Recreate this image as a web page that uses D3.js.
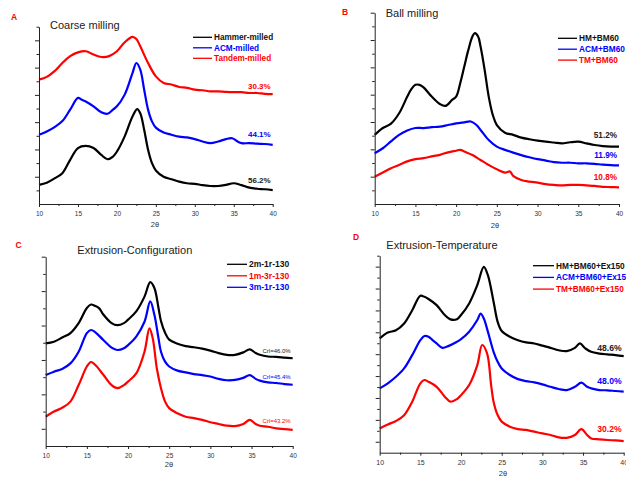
<!DOCTYPE html>
<html><head><meta charset="utf-8">
<script src="https://cdn.jsdelivr.net/npm/d3@7"></script>
<style>body{margin:0;background:#fff}svg{display:block}text{font-family:"Liberation Sans",Arial,sans-serif}</style>
</head><body><svg id="c" width="626" height="477"></svg>
<script>
// ---------- data ----------
const xTicks = [10, 15, 20, 25, 30, 35, 40];
const xMinorTicks = [12.5, 17.5, 22.5, 27.5, 32.5, 37.5];
const xTitle = "2θ";

// Panel A: Coarse milling
const coarseHammer = [[10,0.70],[11,0.78],[12,0.94],[13,1.13],[14,1.62],[15,2.05],[16,2.13],[17,2.05],[18,1.80],[18.8,1.64],[19.5,1.74],[20,1.92],[21,2.48],[22,3.21],[22.6,3.48],[23,3.33],[23.5,2.72],[24,1.99],[24.5,1.50],[25,1.23],[26,1.00],[27,0.91],[28,0.82],[29,0.76],[30,0.74],[31,0.69],[32,0.66],[33,0.66],[34,0.70],[35,0.76],[36,0.69],[37,0.60],[38,0.56],[39,0.54],[40,0.51]];
const coarseACM = [[10,2.54],[11,2.66],[12,2.82],[13,3.04],[14,3.46],[15,3.89],[15.5,3.82],[16,3.76],[17,3.58],[18,3.36],[18.8,3.31],[19.5,3.46],[20,3.58],[21,4.01],[22,4.80],[22.5,5.17],[23,4.93],[23.5,4.19],[24,3.46],[24.5,3.03],[25,2.80],[26,2.62],[27,2.54],[28,2.47],[29,2.44],[30,2.38],[31,2.29],[32,2.23],[33,2.29],[34,2.38],[34.8,2.41],[35.5,2.29],[36,2.23],[37,2.23],[38,2.21],[39,2.20],[40,2.17]];
const coarseTandem = [[10,4.56],[11,4.66],[12,4.87],[13,5.17],[14,5.42],[15,5.56],[16,5.60],[17,5.48],[18,5.39],[19,5.42],[20,5.60],[21,5.93],[22,6.13],[22.5,6.05],[23,5.78],[24,5.17],[25,4.68],[26,4.44],[27,4.38],[28,4.29],[29,4.26],[30,4.19],[31,4.17],[32,4.13],[33,4.13],[34,4.11],[35,4.10],[36,4.10],[37,4.07],[38,4.07],[39,4.04],[40,4.03]];
const coarseNames = ["Hammer-milled", "ACM-milled", "Tandem-milled"];
const coarseCrI = ["56.2%", "44.1%", "30.3%"];

// Panel B: Ball milling
const ballHM = [[10,2.53],[11,2.78],[12,2.94],[13,3.32],[14,3.93],[14.5,4.20],[15,4.36],[15.5,4.36],[16,4.27],[17,3.93],[18,3.66],[18.7,3.59],[19.5,3.81],[20,3.93],[20.5,4.42],[21,5.03],[21.5,5.64],[22,6.13],[22.3,6.25],[22.7,6.13],[23,5.76],[23.5,4.91],[24,3.93],[24.5,3.26],[25,2.89],[26,2.61],[27,2.53],[28,2.43],[29,2.37],[30,2.32],[31,2.28],[32,2.25],[33,2.22],[34,2.26],[35,2.28],[36,2.22],[37,2.16],[38,2.12],[39,2.10],[40,2.10]];
const ballACM = [[10,1.86],[11,2.04],[12,2.29],[13,2.53],[14,2.69],[15,2.78],[16,2.78],[17,2.81],[18,2.83],[19,2.89],[20,2.95],[21,2.99],[21.8,3.02],[22.5,2.89],[23,2.71],[24,2.34],[25,2.10],[26,1.98],[27,1.88],[28,1.79],[29,1.71],[30,1.64],[31,1.59],[32,1.53],[33,1.51],[34,1.51],[35,1.49],[36,1.49],[37,1.47],[38,1.44],[39,1.42],[40,1.41]];
const ballTM = [[10,1.00],[11,1.15],[12,1.31],[13,1.43],[14,1.56],[15,1.64],[16,1.68],[17,1.74],[18,1.80],[19,1.89],[20,1.95],[20.5,1.98],[21,1.92],[22,1.79],[23,1.61],[24,1.43],[25,1.27],[26,1.15],[26.6,1.19],[27,1.03],[28,0.88],[29,0.82],[30,0.78],[31,0.73],[32,0.70],[33,0.68],[34,0.70],[35,0.70],[36,0.68],[37,0.66],[38,0.63],[39,0.62],[40,0.61]];
const ballNames = ["HM+BM60", "ACM+BM60", "TM+BM60"];
const ballCrI = ["51.2%", "11.9%", "10.8%"];

// Panel C: Extrusion-Configuration
const config2m1r = [[10,2.98],[11,3.03],[12,3.15],[13,3.28],[14,3.57],[15,4.01],[15.5,4.11],[16,4.07],[16.5,4.00],[17,3.82],[18,3.57],[18.7,3.51],[19.5,3.57],[20,3.67],[21,3.91],[22,4.34],[22.7,4.76],[23.2,4.59],[23.7,4.01],[24,3.63],[24.5,3.29],[25,3.09],[26,2.97],[27,2.90],[28,2.87],[29,2.83],[30,2.77],[31,2.70],[32,2.65],[33,2.65],[34,2.72],[34.8,2.81],[35.5,2.70],[36,2.65],[37,2.60],[38,2.59],[39,2.57],[40,2.55]];
const config1m3r = [[10,0.85],[11,1.00],[12,1.11],[13,1.29],[14,1.77],[15,2.31],[15.5,2.44],[16,2.36],[17,2.07],[18,1.77],[18.7,1.68],[19.5,1.77],[20,1.87],[21,2.11],[22,2.74],[22.6,3.42],[23,3.13],[23.5,2.25],[24,1.68],[24.5,1.29],[25,1.10],[26,0.95],[27,0.85],[28,0.81],[29,0.76],[30,0.69],[31,0.64],[32,0.59],[33,0.58],[34,0.64],[34.8,0.76],[35.5,0.64],[36,0.59],[37,0.56],[38,0.51],[39,0.49],[40,0.47]];
const config3m1r = [[10,2.06],[11,2.16],[12,2.24],[13,2.40],[14,2.74],[15,3.28],[15.5,3.37],[16,3.31],[17,3.08],[18,2.86],[18.7,2.79],[19.5,2.84],[20,2.93],[21,3.18],[22,3.61],[22.7,4.20],[23.2,3.81],[23.7,3.13],[24,2.74],[24.5,2.45],[25,2.31],[26,2.19],[27,2.14],[28,2.09],[29,2.06],[30,2.02],[31,1.95],[32,1.91],[33,1.92],[34,1.98],[34.8,2.06],[35.5,1.95],[36,1.90],[37,1.85],[38,1.83],[39,1.80],[40,1.78]];
const configNames = ["2m-1r-130", "1m-3r-130", "3m-1r-130"];
const configCrI = ["Crl=46.0%", "Crl=43.2%", "Crl=45.4%"];

// Panel D: Extrusion-Temperature
const tempHM = [[10,5.22],[11,5.49],[12,5.59],[13,5.90],[14,6.51],[15,7.17],[15.5,7.12],[16,7.02],[17,6.74],[18,6.29],[18.7,6.09],[19.5,6.10],[20,6.29],[21,6.82],[22,7.66],[22.8,8.49],[23.3,8.11],[24,6.90],[24.5,5.98],[25,5.56],[26,5.30],[27,5.14],[28,5.04],[29,4.99],[30,4.89],[31,4.79],[32,4.68],[33,4.64],[34,4.79],[34.6,4.99],[35.3,4.76],[36,4.61],[37,4.53],[38,4.49],[39,4.46],[40,4.41]];
const tempACM = [[10,2.94],[11,3.17],[12,3.47],[13,3.85],[14,4.46],[15,5.14],[15.5,5.33],[16,5.30],[16.5,5.14],[17,4.99],[17.7,4.79],[18.5,4.88],[19.5,5.07],[20,5.19],[21,5.53],[22,6.06],[22.4,6.36],[22.8,6.13],[23.3,5.53],[24,4.61],[24.5,4.16],[25,3.85],[26,3.55],[27,3.36],[28,3.27],[29,3.21],[30,3.12],[31,3.01],[32,2.91],[33,2.86],[34,3.01],[34.8,3.20],[35.5,3.01],[36,2.94],[37,2.86],[38,2.85],[39,2.82],[40,2.79]];
const tempTM = [[10,1.11],[11,1.29],[12,1.45],[13,1.71],[14,2.33],[15,3.17],[15.5,3.32],[16,3.24],[17,3.01],[18,2.56],[18.7,2.33],[19.5,2.45],[20,2.63],[21,3.09],[22,4.00],[22.6,4.92],[23.2,4.54],[23.7,3.09],[24,2.33],[24.5,1.72],[25,1.42],[26,1.19],[27,1.08],[28,1.04],[29,0.96],[30,0.88],[31,0.81],[32,0.70],[33,0.68],[34,0.81],[34.8,1.08],[35.5,0.81],[36,0.65],[37,0.61],[38,0.58],[39,0.56],[40,0.53]];
const tempNames = ["HM+BM60+Ex150", "ACM+BM60+Ex150", "TM+BM60+Ex150"];
const tempCrI = ["48.6%", "48.0%", "30.2%"];

// ---------- layout ----------
const BLACK = "#000", BLUE = "#0000ff", RED = "#ff0000";
const panels = [
  { letter: "A", lx: 11, ly: 20, title: "Coarse milling", tx: 50, ty: 28.5,
    left: 39, right: 272.7, bottom: 204, top: 26.7, yMax: 6.5,
    yMajor: [1,2,3,4,5,6], yMinor: [0.5,1.5,2.5,3.5,4.5,5.5,6.5],
    series: [coarseHammer, coarseACM, coarseTandem], colors: [BLACK, BLUE, RED],
    names: coarseNames, crI: coarseCrI, crFont: 8, crBold: true, crOff: [10, 11, 8],
    legX: 193, legLen: 19, legY: 37.3, legDy: 10.5, legFont: 8.2,
    xTitleX: 155, xTitleY: 227, tickFont: 6.5 },
  { letter: "B", lx: 342, ly: 15, title: "Ball milling", tx: 385.7, ty: 16.5,
    left: 374.7, right: 619, bottom: 204, top: 12.7, yMax: 7,
    yMajor: [1,2,3,4,5,6,7], yMinor: [0.5,1.5,2.5,3.5,4.5,5.5,6.5],
    series: [ballHM, ballACM, ballTM], colors: [BLACK, BLUE, RED],
    names: ballNames, crI: ballCrI, crFont: 8.2, crBold: true, crOff: [11.5, 10, 10],
    legX: 558, legLen: 19, legY: 38.3, legDy: 10.9, legFont: 8.3,
    xTitleX: 495, xTitleY: 228, tickFont: 6.5 },
  { letter: "C", lx: 15.5, ly: 247.5, title: "Extrusion-Configuration", tx: 77.3, ty: 253.5,
    left: 45.7, right: 292.7, bottom: 446, top: 256.7, yMax: 5.5,
    yMajor: [0.5,1.5,2.5,3.5,4.5,5.5], yMinor: [1,2,3,4,5],
    series: [config2m1r, config1m3r, config3m1r], colors: [BLACK, RED, BLUE],
    names: configNames, crI: configCrI, crFont: 6, crBold: false, crOff: [7, 9, 8],
    legX: 227, legLen: 20, legY: 264.3, legDy: 11.5, legFont: 8.5,
    xTitleX: 169, xTitleY: 467, tickFont: 6.5 },
  { letter: "D", lx: 353, ly: 240, title: "Extrusion-Temperature", tx: 386.3, ty: 248.5,
    left: 379.7, right: 623.7, bottom: 452.7, top: 255.7, yMax: 9,
    yMajor: [0.5,1.5,2.5,3.5,4.5,5.5,6.5,7.5,8.5], yMinor: [1,2,3,4,5,6,7,8,9],
    series: [tempHM, tempACM, tempTM], colors: [BLACK, BLUE, RED],
    names: tempNames, crI: tempCrI, crFont: 8.6, crBold: true, crOff: [8.5, 11, 12],
    legX: 533, legLen: 21, legY: 265.7, legDy: 11.7, legFont: 8.3,
    xTitleX: 503, xTitleY: 476, tickFont: 7 }
];

const svg = d3.select("#c");

panels.forEach(p => {
  const g = svg.append("g");
  const x = d3.scaleLinear().domain([10, 40]).range([p.left, p.right]);
  const y = d3.scaleLinear().domain([0, p.yMax]).range([p.bottom, p.top]);

  // curves
  const line = d3.line().x(d => x(d[0])).y(d => y(d[1])).curve(d3.curveCatmullRom.alpha(0.5));
  p.series.forEach((s, i) => {
    g.append("path").attr("d", line(s)).attr("fill", "none")
      .attr("stroke", p.colors[i]).attr("stroke-width", 2.2).attr("stroke-linejoin", "round");
  });

  // y axis
  g.append("g").attr("transform", `translate(${p.left},0)`)
    .call(d3.axisLeft(y).tickValues(p.yMajor).tickSize(4).tickSizeOuter(0).tickFormat(""));
  g.append("g").attr("transform", `translate(${p.left},0)`)
    .call(d3.axisLeft(y).tickValues(p.yMinor).tickSize(2.5).tickSizeOuter(0).tickFormat(""))
    .call(a => a.select(".domain").remove());

  // x axis
  const xa = g.append("g").attr("transform", `translate(0,${p.bottom})`)
    .call(d3.axisBottom(x).tickValues(xTicks).tickSize(3).tickSizeOuter(0).tickPadding(4.5).tickFormat(d3.format("d")));
  g.append("g").attr("transform", `translate(0,${p.bottom})`)
    .call(d3.axisBottom(x).tickValues(xMinorTicks).tickSize(2).tickSizeOuter(0).tickFormat(""))
    .call(a => a.select(".domain").remove());

  g.selectAll(".domain").attr("stroke", "#222").attr("stroke-width", 1);
  g.selectAll(".tick line").attr("stroke", "#222");
  xa.selectAll("text").attr("font-size", p.tickFont).attr("fill", "#333")
    .attr("font-family", "Liberation Sans, Arial, sans-serif");

  // axis title
  g.append("text").attr("x", p.xTitleX).attr("y", p.xTitleY).attr("text-anchor", "middle")
    .attr("font-size", 7.5).attr("fill", "#333").text(xTitle);

  // panel letter + title
  g.append("text").attr("x", p.lx).attr("y", p.ly).attr("font-size", 8.5).attr("font-weight", "bold")
    .attr("fill", RED).text(p.letter);
  g.append("text").attr("x", p.tx).attr("y", p.ty).attr("font-size", 11).attr("fill", "#222").text(p.title);

  // legend
  p.names.forEach((n, i) => {
    const ly = p.legY + i * p.legDy;
    g.append("line").attr("x1", p.legX).attr("x2", p.legX + p.legLen).attr("y1", ly).attr("y2", ly)
      .attr("stroke", p.colors[i]).attr("stroke-width", 1.3);
    g.append("text").attr("x", p.legX + p.legLen + 2).attr("y", ly + p.legFont * 0.36)
      .attr("font-size", p.legFont).attr("font-weight", "bold")
      .attr("fill", p.colors[i] === BLACK ? "#111" : p.colors[i]).text(n);
  });

  // crystallinity labels
  p.series.forEach((s, i) => {
    const last = s[s.length - 1];
    g.append("text").attr("x", x(40) - 2).attr("y", y(last[1]) - p.crOff[i] + p.crFont * 0.36)
      .attr("text-anchor", "end").attr("font-size", p.crFont)
      .attr("font-weight", p.crBold ? "bold" : "normal")
      .attr("fill", p.colors[i] === BLACK ? "#222" : p.colors[i]).text(p.crI[i]);
  });
});
</script></body></html>
